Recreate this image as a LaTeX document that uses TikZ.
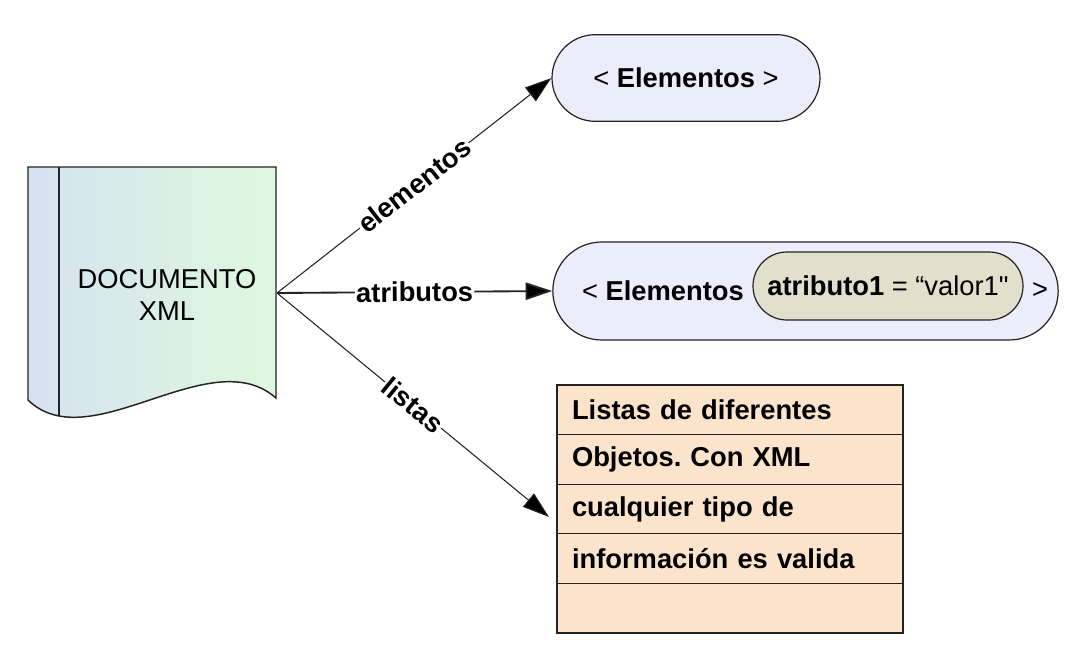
\documentclass[tikz,border=0pt]{standalone}
\usepackage{fontspec}
\setmainfont{Liberation Sans}
\newfontfamily\plainsans{Liberation Sans}[Ligatures=ResetAll]
\usetikzlibrary{arrows.meta,shapes.misc}

\definecolor{docgreen}{RGB}{222,248,222}
\definecolor{docblue}{RGB}{214,226,240}
\definecolor{pilllav}{RGB}{236,236,250}
\definecolor{pillolive}{RGB}{224,224,204}
\definecolor{rowpeach}{RGB}{252,228,204}
\definecolor{linegray}{RGB}{35,35,35}

\tikzset{
  pill/.style={rounded rectangle, draw=linegray, line width=0.9pt, fill=pilllav, inner sep=0pt},
  row/.style={draw=linegray, line width=0.9pt, fill=rowpeach, minimum width=259.5pt,
    minimum height=37.2pt, text width=237pt, align=left, inner sep=0pt, font=\bfseries},
  link/.style={draw=linegray, line width=0.8pt, -{Triangle[length=20pt,width=13pt,fill=black]}},
  linklabel/.style={midway, sloped, fill=white, inner sep=1pt, font=\bfseries},
}

\begin{document}
\fontsize{20.5}{24.5}\selectfont\frenchspacing
\begin{tikzpicture}[x=0.75pt,y=-0.75pt]
  \useasboundingbox (0,0) rectangle (1065,650);
  \draw [draw=linegray, line width=1.1pt, left color=docblue, right color=docgreen]
    (28,167) -- (276,167) -- (276,398) .. controls (210,340) and (90,460) .. (28,400) -- cycle;
  \draw [draw=linegray, line width=1.1pt] (59,167) -- (59,416);
  \node [align=center] (doctext) at (167,295) {DOCUMENTO\\XML};
  \coordinate (src) at (277,293);

  \node [pill, minimum width=201pt, minimum height=65pt] (elem) at (686,78) {< \textbf{Elementos} >};

  \node [pill, minimum width=379pt, minimum height=73.5pt] (attr) at (805.5,291) {};
  \node (open) at (663,291) {< \textbf{Elementos}};
  \node [pill, fill=pillolive, minimum width=202.5pt, minimum height=51pt] (val) at (888,286) {\textbf{atributo1} = “valor1{\plainsans"}};
  \node (close) at (1040,291) {>};

  \node [row] (r1) at (730,409.8) {Listas de diferentes};
  \node [row] (r2) at (730,459.4) {Objetos. Con XML};
  \node [row] (r3) at (730,509.0) {cualquier tipo de};
  \node [row] (r4) at (730,558.6) {información es valida};
  \node [row] (r5) at (730,608.2) {};
  \coordinate (ltip) at (549,517);

  \draw [link] (src) -- node [linklabel] {elementos} (elem.west);
  \draw [link, line width=1.4pt] (src) -- node [linklabel] {atributos} (attr.west);
  \draw [link] (src) -- node [linklabel] {listas} (ltip);
\end{tikzpicture}
\end{document}
